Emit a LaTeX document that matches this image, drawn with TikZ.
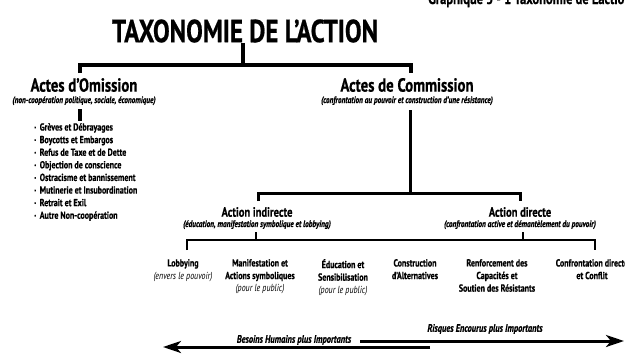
\documentclass[tikz,border=0pt]{standalone}
\usepackage{fontspec}
\setmainfont{PT Sans}[FakeStretch=0.78,
  BoldFeatures={FakeBold=0.6}, BoldItalicFeatures={FakeBold=0.6}]
\usetikzlibrary{positioning,arrows.meta}

% fonts of the tree levels
\newcommand{\titlefont}{\bfseries\fontsize{32}{34}\selectfont}
\newcommand{\headfont}{\bfseries\fontsize{19}{20}\selectfont}
\newcommand{\subfont}{\bfseries\fontsize{13.5}{14}\selectfont}
\newcommand{\notefont}{\bfseries\itshape\fontsize{9.3}{10}\selectfont}
\newcommand{\leaffont}{\bfseries\fontsize{10.2}{12.6}\selectfont}
\newcommand{\smallbullet}{\raisebox{.25ex}{\scalebox{.55}{\textbullet}}\hspace{.35em}}

\tikzset{
  treetitle/.style={font=\titlefont, inner sep=0pt},
  treehead/.style={font=\headfont, inner sep=0pt},
  treesub/.style={font=\subfont, inner sep=0pt},
  treenote/.style={font=\notefont, inner sep=0pt},
  treeleaf/.style={font=\leaffont, align=center, inner sep=0pt, anchor=north},
  scalenote/.style={font=\bfseries\itshape\fontsize{10.8}{11}\selectfont, inner sep=0pt},
  barline/.style={line width=#1, line cap=butt, line join=miter},
  scalearrow/.style={line width=3pt, -{Stealth[length=18pt,width=12pt,inset=5pt]}},
}

\begin{document}
\begin{tikzpicture}[x=1pt, y=-1pt]
  \clip (0,0) rectangle (625,354);
  \fill[white] (0,0) rectangle (625,354);

  % caption of the page, cut at the top
  \node[font=\bfseries\fontsize{16}{17}\selectfont, anchor=base west, inner sep=0pt]
    (caption) at (428,4) {Graphique 5 - 1 Taxonomie de L'action};

  \node[treetitle] (title) at (245,31) {TAXONOMIE DE L'ACTION};

  % first split
  \node[treehead] (omis) at (84,85) {Actes d'Omission};
  \node[treenote, below=4pt of omis] (omisnote) {(non-coopération politique, sociale, économique)};
  \node[treehead] (comm) at (407,85) {Actes de Commission};
  \node[treenote, below=4pt of comm] (commnote) {(confrontation au pouvoir et construction d'une résistance)};

  \coordinate (topmid) at (243,65);
  \coordinate (omisbar) at (80,73);
  \coordinate (commbar) at (411,73);
  \draw[barline=4.5pt] (title.south -| topmid) -- (topmid);
  \draw[barline=4.5pt] (omisbar) |- (topmid) -| (commbar);

  % omission list
  \coordinate (omisstem) at (80,121);
  \draw[barline=4pt] (omisnote.south -| omisstem) ++(0,4) -- (omisstem);
  \node[font=\leaffont, align=left, anchor=north west, inner sep=0pt] (omislist) at (34,123) {%
    \smallbullet Grèves et Débrayages\\
    \smallbullet Boycotts et Embargos\\
    \smallbullet Refus de Taxe et de Dette\\
    \smallbullet Objection de conscience\\
    \smallbullet Ostracisme et bannissement\\
    \smallbullet Mutinerie et Insubordination\\
    \smallbullet Retrait et Exil\\
    \smallbullet Autre Non-coopération};

  % second split
  \node[treesub] (indir) at (257,212) {Action indirecte};
  \node[treenote, below=3pt of indir] (indirnote) {(éducation, manifestation symbolique et lobbying)};
  \node[treesub] (dir) at (520,212) {Action directe};
  \node[treenote, below=3pt of dir] (dirnote) {(confrontation active et démantèlement du pouvoir)};

  \coordinate (midjoin) at (410,193);
  \coordinate (indirbar) at (258,201);
  \coordinate (dirbar) at (520,201);
  \draw[barline=3pt] (commnote.south -| midjoin) ++(0,5) -- (midjoin);
  \draw[barline=3pt] (indirbar) |- (midjoin) -| (dirbar);

  % leaves
  \coordinate (lowbar) at (256,240);
  \coordinate (leftend) at (187,250);
  \coordinate (rightend) at (595,250);
  \draw[barline=2.6pt] (indirnote.south -| lowbar) ++(0,3) -- (lowbar);
  \draw[barline=2.6pt] (dirnote.south -| 523,0) ++(0,3) -- (523,240);
  \draw[barline=2.6pt] (leftend) |- (lowbar) -| (rightend);

  \node[treeleaf] (lobby) at (183,259) {Lobbying\\{\mdseries\itshape (envers le pouvoir)}};
  \node[treeleaf] (manif) at (260,259) {Manifestation et\\Actions symboliques\\{\mdseries\itshape (pour le public)}};
  \node[treeleaf] (educ) at (343,259) {Éducation et\\Sensibilisation\\{\mdseries\itshape (pour le public)}};
  \node[treeleaf] (constr) at (415,259) {Construction\\d'Alternatives};
  \node[treeleaf] (renf) at (497,259) {Renforcement des\\Capacités et\\Soutien des Résistants};
  \node[treeleaf] (confr) at (592,259) {Confrontation directe\\et Conflit};

  % scale of needs and risks
  \coordinate (needsfrom) at (430,347);
  \coordinate (needsto) at (163,347);
  \coordinate (risksfrom) at (360,341);
  \coordinate (risksto) at (624,341);
  \draw[scalearrow] (needsfrom) -- (needsto);
  \draw[scalearrow] (risksfrom) -- (risksto);
  \node[scalenote] (needs) at (294,340) {Besoins Humains plus Importants};
  \node[scalenote] (risks) at (485,329) {Risques Encourus plus Importants};
\end{tikzpicture}
\end{document}
